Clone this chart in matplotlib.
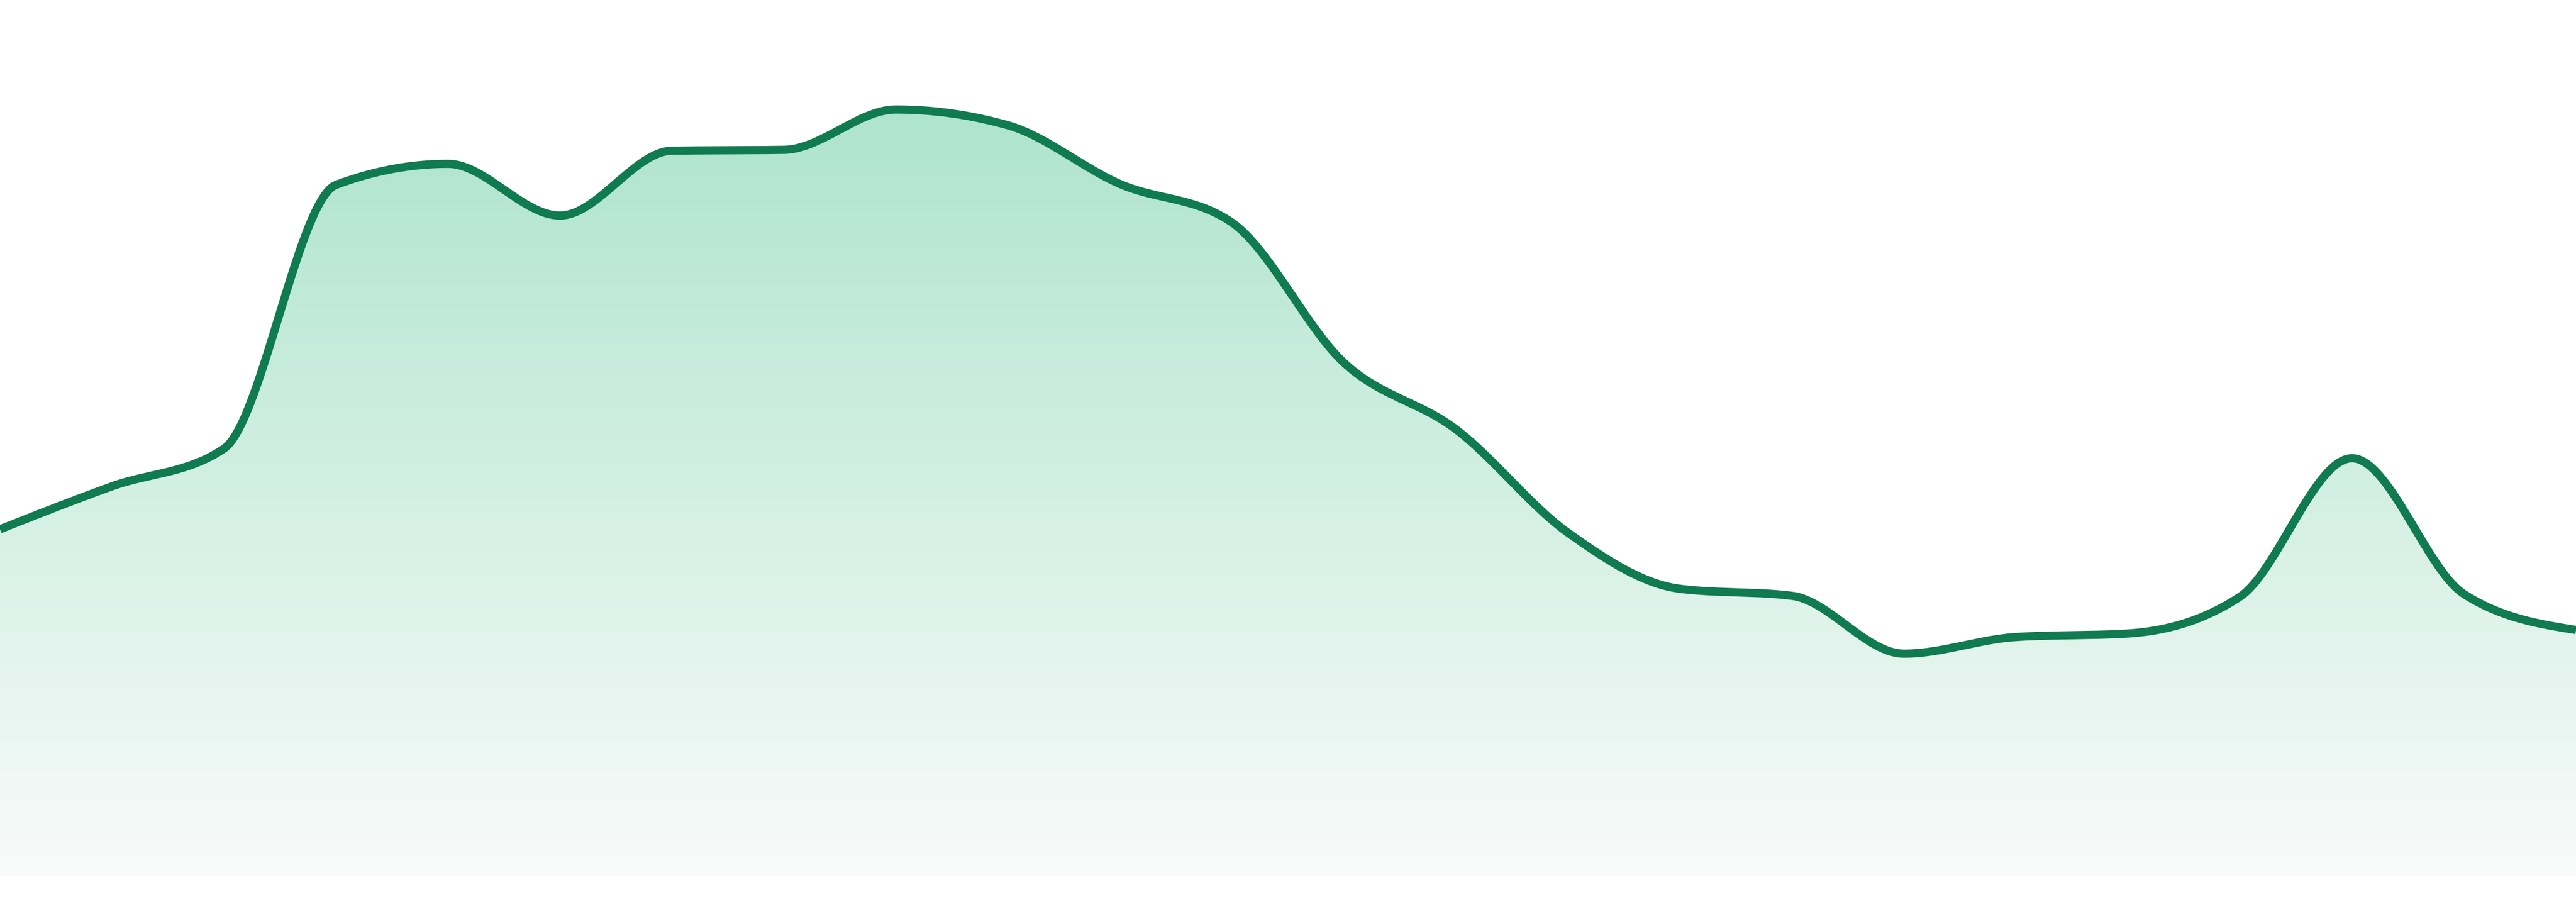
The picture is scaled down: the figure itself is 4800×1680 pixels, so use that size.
import numpy as np
import matplotlib
matplotlib.use("Agg")
import matplotlib.pyplot as plt
from matplotlib.colors import LinearSegmentedColormap

# values (arbitrary units, 0 = bottom of the area)
days = list(range(24))
values = [39.6, 44.5, 48.8, 78.9, 81.3, 75.4, 82.8, 82.9, 87.5, 85.7, 79.0, 74.6,
          58.6, 51.0, 39.2, 32.8, 32.0, 25.4, 27.3, 27.7, 31.9, 47.7, 32.2, 28.1]

line_color = "#107a50"
fill_top = "#aee4ce"
fill_bottom = "#f8fbfa"


def monotone_x(x, y, n=60):
    # same curve as d3.curveMonotoneX
    x = np.asarray(x, float)
    y = np.asarray(y, float)
    h = np.diff(x)
    s = np.diff(y) / h
    t = np.zeros_like(y)
    for i in range(1, len(y) - 1):
        s0, s1 = s[i - 1], s[i]
        p = (s0 * h[i] + s1 * h[i - 1]) / (h[i - 1] + h[i])
        t[i] = (np.sign(s0) + np.sign(s1)) * min(abs(s0), abs(s1), 0.5 * abs(p))
    t[0] = (3 * s[0] - t[1]) / 2
    t[-1] = (3 * s[-1] - t[-2]) / 2
    xs, ys = [], []
    u = np.linspace(0, 1, n, endpoint=False)
    for i in range(len(x) - 1):
        dx = h[i]
        p0, p3 = y[i], y[i + 1]
        p1 = y[i] + dx * t[i] / 3
        p2 = y[i + 1] - dx * t[i + 1] / 3
        b = ((1 - u) ** 3 * p0 + 3 * (1 - u) ** 2 * u * p1
             + 3 * (1 - u) * u ** 2 * p2 + u ** 3 * p3)
        xs.append(x[i] + u * dx)
        ys.append(b)
    xs.append([x[-1]])
    ys.append([y[-1]])
    return np.concatenate(xs), np.concatenate(ys)


fig = plt.figure(figsize=(48, 16.8), dpi=100)
ax = fig.add_axes([0, 48 / 1680, 1, 1632 / 1680])
ax.axis("off")

cx, cy = monotone_x(days, values)

# gradient area under the curve
area = ax.fill_between(cx, 0, cy, facecolor="none", edgecolor="none")
cmap = LinearSegmentedColormap.from_list("g", [fill_bottom, fill_top])
grad = np.linspace(0, 1, 256).reshape(-1, 1)
im = ax.imshow(grad, cmap=cmap, origin="lower", aspect="auto",
               extent=[days[0], days[-1], 0, max(values)], zorder=1)
im.set_clip_path(area.get_paths()[0], transform=ax.transData)

ax.plot(cx, cy, color=line_color, lw=11, solid_joinstyle="round",
        solid_capstyle="butt", zorder=3)

ax.set_xlim(days[0], days[-1])
ax.set_ylim(0, 100)

fig.savefig("out.png", dpi=100, facecolor="white")
